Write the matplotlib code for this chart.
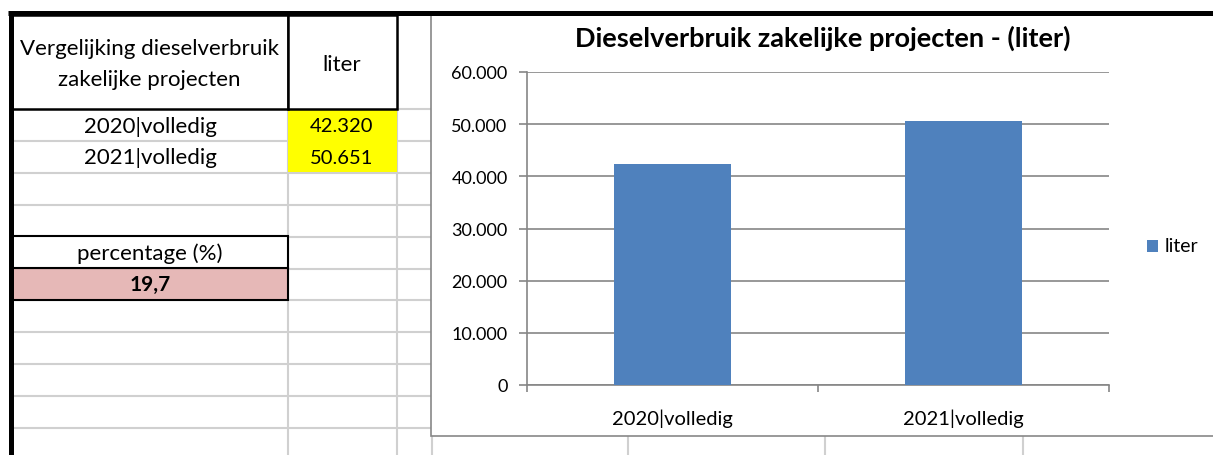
import matplotlib
matplotlib.use("Agg")
import matplotlib.pyplot as plt
from matplotlib.ticker import FuncFormatter, FixedLocator
from matplotlib.patches import Rectangle

categories = ["2020|volledig", "2021|volledig"]
liters = [42320, 50651]
value_labels = ["42.320", "50.651"]
percentage_label = "19,7"
series_name = "liter"
title = "Dieselverbruik zakelijke projecten - (liter)"
yticks = [0, 10000, 20000, 30000, 40000, 50000, 60000]

W, H = 1213, 456
plt.rcParams['font.family'] = ['Lato', 'DejaVu Sans']
fig = plt.figure(figsize=(W / 100, H / 100), dpi=100)

# ---------- spreadsheet background (pixel coordinates) ----------
bg = fig.add_axes([0, 0, 1, 1])
bg.set_xlim(0, W)
bg.set_ylim(H, 0)
bg.axis("off")

grid_c = "#D0D0D0"
row_lines = [142, 174, 206, 238, 270, 301, 333, 365, 397, 429]
for y in [110] + row_lines:
    bg.plot([12, 430], [y, y], color=grid_c, lw=1.5, zorder=1)
for x in [288, 397]:
    bg.plot([x, x], [16, H], color=grid_c, lw=1.5, zorder=1)
for x in [432, 628, 825, 1023]:
    bg.plot([x, x], [437, H], color=grid_c, lw=1.5, zorder=1)

# yellow value cells
bg.add_patch(Rectangle((288, 110), 109, 63, facecolor="#FFFF00", edgecolor="none", zorder=2))
# pink percentage cell
bg.add_patch(Rectangle((12, 269), 276, 32, facecolor="#E6B8B7", edgecolor="black", lw=1.5, zorder=3))
bg.add_patch(Rectangle((12, 237), 276, 32, facecolor="white", edgecolor="black", lw=1.5, zorder=3))
# header box
bg.add_patch(Rectangle((12, 16), 276, 94, facecolor="white", edgecolor="black", lw=1.8, zorder=3))
bg.add_patch(Rectangle((288, 16), 109, 94, facecolor="white", edgecolor="black", lw=1.8, zorder=3))

# thick borders
bg.plot([8, W], [14, 14], color="black", lw=3.6, zorder=5, solid_capstyle="butt")
bg.plot([10.5, 10.5], [12, H], color="black", lw=3.6, zorder=5, solid_capstyle="butt")

tfs = 16
nfs = 14.5
bg.text(149, 49, "Vergelijking dieselverbruik", ha="center", va="center", fontsize=tfs, zorder=6)
bg.text(149, 80, "zakelijke projecten", ha="center", va="center", fontsize=tfs, zorder=6)
bg.text(342, 65, series_name, ha="center", va="center", fontsize=tfs, zorder=6)
for i, (c, v) in enumerate(zip(categories, value_labels)):
    y = 127 + i * 31.5
    bg.text(150, y, c, ha="center", va="center", fontsize=tfs, zorder=6)
    bg.text(342, y, v, ha="center", va="center", fontsize=nfs, zorder=6)
bg.text(150, 254, "percentage (%)", ha="center", va="center", fontsize=tfs, zorder=6)
bg.text(150, 285, percentage_label, ha="center", va="center", fontsize=15, fontweight="bold", zorder=6)

# chart area
bg.add_patch(Rectangle((430.5, 16), W, 421, facecolor="white", edgecolor="#878787", lw=1.2, zorder=4))

# ---------- chart ----------
L, R, T, B = 527, 1109, 73, 386
ax = fig.add_axes([L / W, (H - B) / H, (R - L) / W, (B - T) / H])
ax.set_zorder(10)
ax.patch.set_alpha(0)
x = list(range(len(categories)))
ax.bar(x, liters, width=0.4, color="#4F81BD", zorder=3, label=series_name)
ax.set_xlim(-0.5, len(categories) - 0.5)
ax.set_ylim(0, 60000)
ax.yaxis.set_major_locator(FixedLocator(yticks))
ax.yaxis.set_major_formatter(FuncFormatter(lambda v, p: f"{int(v):,}".replace(",", ".")))
ax.grid(axis="y", color="#868686", lw=1.2, zorder=0)
for s in ["top", "right"]:
    ax.spines[s].set_visible(False)
for s in ["left", "bottom"]:
    ax.spines[s].set_color("#868686")
    ax.spines[s].set_linewidth(1.2)
ax.tick_params(axis="y", length=6, color="#868686", width=1.2, labelsize=13, pad=8)
ax.set_xticks(x)
ax.set_xticklabels(categories)
ax.tick_params(axis="x", which="major", length=0, labelsize=14.5, pad=17)
ax.set_xticks([i - 0.5 for i in range(len(categories) + 1)], minor=True)
ax.tick_params(axis="x", which="minor", length=5, color="#868686", width=1.2)

fig.text(823 / W, 1 - 38 / H, title, ha="center", va="center", fontsize=19.5, fontweight="bold")

# legend
bg.add_patch(Rectangle((1147, 241), 11, 12, facecolor="#4F81BD", edgecolor="none", zorder=6))
bg.text(1165, 247, series_name, ha="left", va="center", fontsize=14, zorder=6)

fig.savefig("out.png", dpi=100)
